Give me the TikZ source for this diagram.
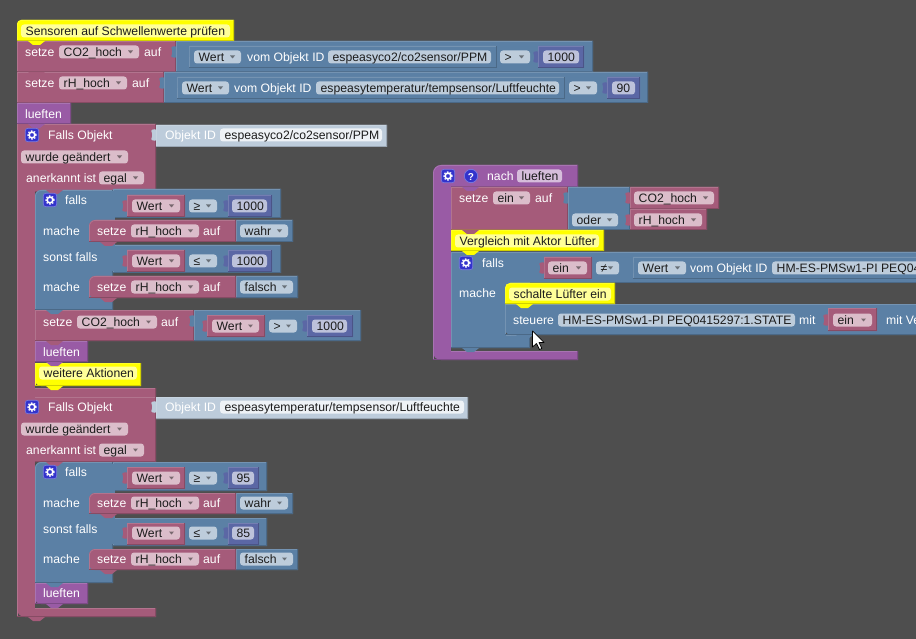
\documentclass[tikz,border=0pt]{standalone}
\usepackage{fontspec}
\setmainfont{Liberation Sans}
\definecolor{bgc}{HTML}{4E4E4E}
\definecolor{pk}{HTML}{A55B7A}
\definecolor{bl}{HTML}{5B80A5}
\definecolor{pu}{HTML}{995BA5}
\definecolor{nm}{HTML}{5B67A5}
\definecolor{yl}{HTML}{FFFF00}
\definecolor{lt}{HTML}{BDCCDB}
\definecolor{fpk}{HTML}{DBBDCA}
\definecolor{fbl}{HTML}{BDCCDB}
\definecolor{fpu}{HTML}{D6BDDB}
\definecolor{fnm}{HTML}{BDC2DB}
\definecolor{fyl}{HTML}{FFFF99}
\definecolor{fwh}{HTML}{EEF2F6}
\definecolor{dk}{HTML}{1C1C1C}
\definecolor{gearc}{HTML}{3333CC}
\newcounter{nn}
\tikzset{
  lbl/.style={anchor=west,inner sep=0pt,text height=10pt,text depth=1.6pt,font=\fontsize{12.2}{14}\selectfont,text=white},
  ftx/.style={lbl,text=dk},
  mouse/.style={fill=white,draw=black,line width=.7pt,line join=round}
}
% block: colour x1 y1 x2 y2 radius-top-left radius-bottom-left
\newcommand{\bkr}[7]{%
  \fill[#1] (#4,#3) [rounded corners=#6pt] -- (#2,#3) [rounded corners=#7pt] -- (#2,#5) [sharp corners] -- (#4,#5) -- cycle;
  \draw[#1!85!white,line width=.8pt] ({#4-.4},{#3+.4}) [rounded corners=#6pt] -- ({#2+.4},{#3+.4}) [rounded corners=#7pt] -- ({#2+.4},{#5-.4});
  \draw[#1!82!black,line width=.8pt] ({#2+.4},{#5-.4}) -- ({#4-.4},{#5-.4}) -- ({#4-.4},{#3+.4});}
\newcommand{\bk}[5]{\bkr{#1}{#2}{#3}{#4}{#5}{0.1}{0.1}}
% statement tab below a block
\newcommand{\nt}[3]{\fill[#1] ({#2+11},#3) -- ({#2+16},{#3+4}) -- ({#2+23},{#3+4}) -- ({#2+28},#3) -- cycle;}
% value tab at the left edge of a block
\newcommand{\tb}[3]{\fill[#1,rounded corners=1pt] (#2,{#3-6}) -- ({#2-5},{#3-5}) -- ({#2-3.5},#3) -- ({#2-5},{#3+5}) -- (#2,{#3+6}) -- cycle;}
\newcommand{\lab}[3]{\stepcounter{nn}\node[lbl] (n\arabic{nn}) at (#1,#2) {#3};}
% field without arrow: colour x1 x2 yc text
\newcommand{\fl}[5]{\fill[#1,rounded corners=3pt] (#2,{#4-6.5}) rectangle (#3,{#4+6.5});
  \stepcounter{nn}\node[ftx] (n\arabic{nn}) at ({#2+4.5},#4) {#5};}
% dropdown field
\newcommand{\dd}[5]{\fl{#1}{#2}{#3}{#4}{#5}
  \fill[#1!55!black] ({#3-11},{#4-1.5}) -- ({#3-6},{#4-1.5}) -- ({#3-8.5},{#4+1.5}) -- cycle;}
\newcommand{\gear}[2]{%
  \fill[gearc,draw=gearc!65!white,line width=.7pt,rounded corners=2.5pt] ({#1-6.7},{#2-6.7}) rectangle ({#1+6.7},{#2+6.7});
  \draw[white,line width=1.6pt] (#1,#2) circle (2.9pt);
  \draw[white,line width=1.2pt,dash pattern=on 1.5pt off 1.5pt] (#1,#2) circle (4.1pt);}
\begin{document}
\begin{tikzpicture}[x=1pt,y=-1pt]
\useasboundingbox (0,0) rectangle (916,639);
\clip (0,0) rectangle (916,639);
\fill[bgc] (0,0) rectangle (916,639);

% ---------- first Falls Objekt ----------
\bk{pk}{17}{124}{156}{192}
\bk{pk}{17}{388}{156}{398}
\fill[pk] (17,124) rectangle (35,397);
\draw[pk!85!white,line width=.8pt] (17.4,124) -- (17.4,397);
\tb{lt}{156}{135}
\bk{lt}{156}{125}{387}{147}
\gear{32}{135}
\lab{48}{135}{Falls Objekt}
\lab{165}{135}{Objekt ID}
\fl{fwh}{220}{382}{135}{espeasyco2/co2sensor/PPM}
\dd{fpk}{21}{128}{157}{wurde geändert}
\lab{26}{178}{anerkannt ist}
\dd{fpk}{99}{144}{178}{egal}

% ---------- second Falls Objekt ----------
\bk{pk}{17}{397}{156}{462}
\bkr{pk}{17}{608}{156}{617}{0.1}{8}
\fill[pk] (17,397) rectangle (35,610);
\draw[pk!85!white,line width=.8pt] (17.4,397) -- (17.4,610);
\nt{pk}{17}{617}
\tb{lt}{156}{407}
\bk{lt}{156}{397}{468}{419}
\gear{32}{407}
\lab{48}{407}{Falls Objekt}
\lab{165}{407}{Objekt ID}
\fl{fwh}{220}{464}{407}{espeasytemperatur/tempsensor/Luftfeuchte}
\dd{fpk}{21}{128}{429}{wurde geändert}
\lab{26}{450}{anerkannt ist}
\dd{fpk}{99}{144}{450}{egal}

% ---------- comment and top statements ----------
\bk{pk}{17}{41}{176}{72}
\tb{bl}{176}{52}
\bk{bl}{176}{41}{593}{72}
\bk{bl}{189}{46}{497}{68}
\tb{bl}{189}{52}
\lab{25}{52}{setze}
\dd{fpk}{59}{139}{52}{CO2\_hoch}
\lab{144}{52}{auf}
\dd{fbl}{194}{241}{57}{Wert}
\lab{247}{57}{vom Objekt ID}
\fl{fbl}{328}{491}{57}{espeasyco2/co2sensor/PPM}
\dd{fbl}{500}{530}{57}{>}
\tb{nm}{538}{57}
\bk{nm}{538}{46}{584}{68}
\fl{fnm}{543}{579}{57}{1000}

\bk{pk}{17}{72}{164}{103}
\tb{bl}{164}{83}
\bk{bl}{164}{72}{648}{103}
\bk{bl}{177}{77}{565}{99}
\tb{bl}{177}{83}
\lab{25}{83}{setze}
\dd{fpk}{59}{127}{83}{rH\_hoch}
\lab{132}{83}{auf}
\dd{fbl}{182}{229}{88}{Wert}
\lab{234}{88}{vom Objekt ID}
\fl{fbl}{316}{559}{88}{espeasytemperatur/tempsensor/Luftfeuchte}
\dd{fbl}{569}{597}{88}{>}
\tb{nm}{607}{88}
\bk{nm}{607}{77}{640}{99}
\fl{fnm}{612}{635}{88}{90}
\nt{pk}{17}{72}
\nt{pk}{17}{103}

\bk{pu}{17}{103}{71}{124}
\lab{25}{114}{lueften}
\nt{pu}{17}{124}

\bkr{yl}{17}{20}{234}{41}{4}{0.1}
\fl{fyl}{21}{230}{31}{Sensoren auf Schwellenwerte prüfen}
\nt{yl}{17}{41}

% ---------- first falls ----------
\bkr{bl}{35}{190}{113}{310}{6}{0.1}
\bk{bl}{113}{189}{281}{218}
\bk{bl}{113}{245}{281}{273}
\fill[bl] (100,191) rectangle (115,271);
\nt{pk}{35}{190}
\gear{50}{200}
\lab{65}{200}{falls}
\tb{bl}{113}{205}
\tb{pk}{127}{206}
\bk{pk}{127}{195}{185}{217}
\dd{fpk}{132}{180}{206}{Wert}
\dd{fbl}{189}{217}{206}{≥}
\tb{nm}{228}{206}
\bk{nm}{228}{195}{272}{217}
\fl{fnm}{232}{267}{206}{1000}
\lab{43}{231}{mache}
\tb{bl}{236}{231}
\bk{bl}{236}{220}{293}{242}
\bkr{pk}{89}{220}{236}{242}{6}{6}
\lab{97}{231}{setze}
\dd{fpk}{131}{199}{231}{rH\_hoch}
\lab{203}{231}{auf}
\dd{fbl}{240}{288}{231}{wahr}
\nt{pk}{89}{242}
\lab{43}{257}{sonst falls}
\tb{bl}{113}{260}
\tb{pk}{127}{261}
\bk{pk}{127}{250}{185}{272}
\dd{fpk}{132}{180}{261}{Wert}
\dd{fbl}{189}{217}{261}{≤}
\tb{nm}{228}{261}
\bk{nm}{228}{250}{272}{272}
\fl{fnm}{232}{267}{261}{1000}
\lab{43}{287}{mache}
\tb{bl}{236}{287}
\bk{bl}{236}{276}{298}{298}
\bkr{pk}{89}{276}{236}{298}{6}{6}
\lab{97}{287}{setze}
\dd{fpk}{131}{199}{287}{rH\_hoch}
\lab{203}{287}{auf}
\dd{fbl}{240}{293}{287}{falsch}
\nt{pk}{89}{298}

\bk{pk}{35}{310}{194}{341}
\tb{bl}{194}{321}
\bk{bl}{194}{310}{361}{341}
\nt{bl}{35}{310}
\lab{43}{322}{setze}
\dd{fpk}{77}{157}{322}{CO2\_hoch}
\lab{161}{322}{auf}
\tb{pk}{207}{326}
\bk{pk}{207}{315}{265}{337}
\dd{fpk}{212}{259}{326}{Wert}
\dd{fbl}{269}{297}{326}{>}
\tb{nm}{307}{326}
\bk{nm}{307}{315}{353}{337}
\fl{fnm}{312}{347}{326}{1000}
\bk{pu}{35}{341}{88}{362}
\nt{pk}{35}{341}
\lab{43}{352}{lueften}
\bkr{yl}{35}{363}{141}{386}{0.1}{6}
\nt{pu}{35}{362}
\fl{fyl}{39}{137}{373}{weitere Aktionen}
\nt{yl}{35}{386}

% ---------- second falls ----------
\bkr{bl}{35}{462}{113}{583}{6}{0.1}
\bk{bl}{113}{462}{267}{491}
\bk{bl}{113}{518}{267}{546}
\fill[bl] (100,464) rectangle (115,544);
\nt{pk}{35}{462}
\gear{50}{472}
\lab{65}{472}{falls}
\tb{bl}{113}{477}
\tb{pk}{127}{478}
\bk{pk}{127}{467}{185}{489}
\dd{fpk}{132}{180}{478}{Wert}
\dd{fbl}{189}{217}{478}{≥}
\tb{nm}{228}{478}
\bk{nm}{228}{467}{259}{489}
\fl{fnm}{232}{254}{478}{95}
\lab{43}{503}{mache}
\tb{bl}{236}{503}
\bk{bl}{236}{493}{293}{514}
\bkr{pk}{89}{493}{236}{514}{6}{6}
\lab{97}{503}{setze}
\dd{fpk}{131}{199}{503}{rH\_hoch}
\lab{203}{503}{auf}
\dd{fbl}{240}{288}{503}{wahr}
\nt{pk}{89}{514}
\lab{43}{529}{sonst falls}
\tb{bl}{113}{532}
\tb{pk}{127}{533}
\bk{pk}{127}{523}{185}{545}
\dd{fpk}{132}{180}{533}{Wert}
\dd{fbl}{189}{217}{533}{≤}
\tb{nm}{228}{533}
\bk{nm}{228}{523}{259}{545}
\fl{fnm}{232}{254}{533}{85}
\lab{43}{559}{mache}
\tb{bl}{236}{559}
\bk{bl}{236}{549}{298}{570}
\bkr{pk}{89}{549}{236}{570}{6}{6}
\lab{97}{559}{setze}
\dd{fpk}{131}{199}{559}{rH\_hoch}
\lab{203}{559}{auf}
\dd{fbl}{240}{293}{559}{falsch}
\nt{pk}{89}{570}
\bkr{pu}{35}{583}{88}{604}{0.1}{6}
\nt{bl}{35}{583}
\lab{43}{593}{lueften}
\nt{pu}{35}{604}

% ---------- right group ----------
\bkr{pu}{433}{165}{578}{187}{8}{0.1}
\bkr{pu}{433}{351}{578}{360}{0.1}{8}
\fill[pu] (433,175) rectangle (451,353);
\draw[pu!85!white,line width=.8pt] (433.4,175) -- (433.4,353);
\gear{448}{176}
\fill[gearc,draw=gearc!65!white,line width=.7pt] (471,176) circle (6.7pt);
\stepcounter{nn}\node[lbl,anchor=center,font=\fontsize{10}{12}\selectfont\bfseries] (n\arabic{nn}) at (471,176) {?};
\lab{487}{176}{nach}
\fl{fpu}{517}{562}{176}{lueften}

\bk{pk}{451}{187}{568}{230}
\tb{bl}{568}{198}
\bk{bl}{568}{187}{630}{230}
\bk{pk}{630}{187}{719}{209}
\bk{pk}{630}{209}{707}{230}
\tb{pk}{630}{198}
\tb{pk}{630}{220}
\nt{pu}{451}{187}
\lab{459}{198}{setze}
\dd{fpk}{493}{530}{198}{ein}
\lab{535}{198}{auf}
\dd{fbl}{572}{618}{220}{oder}
\dd{fpk}{634}{714}{198}{CO2\_hoch}
\dd{fpk}{634}{702}{220}{rH\_hoch}

\bk{bl}{451}{252}{916.5}{283}
\bk{bl}{451}{335}{530}{348}
\fill[bl] (451,254) rectangle (506,345);
\fill[bl] (500,254) rectangle (530,300);
\draw[bl!85!white,line width=.8pt] (451.4,252) -- (451.4,345);
\nt{bl}{451}{348}
\gear{466}{263}
\lab{482}{263}{falls}
\lab{459}{293}{mache}
\tb{bl}{530}{268}
\bk{pk}{544}{257}{592}{279}
\tb{pk}{544}{268}
\dd{fpk}{548}{587}{268}{ein}
\dd{fbl}{596}{619}{268}{≠}
\bk{bl}{633}{257}{930}{279}
\tb{bl}{633}{268}
\dd{fbl}{638}{686}{268}{Wert}
\lab{690}{268}{vom Objekt ID}
\fl{fbl}{772}{930}{268}{HM-ES-PMSw1-PI PEQ04}

\bkr{bl}{505}{304}{930}{335}{0.1}{6}
\nt{bl}{505}{335}
\lab{513}{320}{steuere}
\fl{fbl}{558}{795}{320}{HM-ES-PMSw1-PI PEQ0415297:1.STATE}
\lab{799}{320}{mit}
\tb{pk}{828}{320}
\bk{pk}{828}{308}{877}{331}
\dd{fpk}{833}{872}{320}{ein}
\lab{886}{320}{mit Ve}

\bkr{yl}{451}{230}{604}{251}{0.1}{0.1}
\nt{pk}{451}{230}
\fl{fyl}{455}{599}{241}{Vergleich mit Aktor Lüfter}
\nt{yl}{451}{251}
\bkr{yl}{505}{283}{615}{304}{5}{0.1}
\fl{fyl}{509}{611}{294}{schalte Lüfter ein}
\nt{yl}{505}{304}

% mouse pointer
\path[mouse] (532.5,331) -- (532.5,347) -- (536.5,343.5) -- (539.5,349.5) -- (541.8,348.4) -- (539,342.6) -- (544,342.4) -- cycle;
\end{tikzpicture}
\end{document}
